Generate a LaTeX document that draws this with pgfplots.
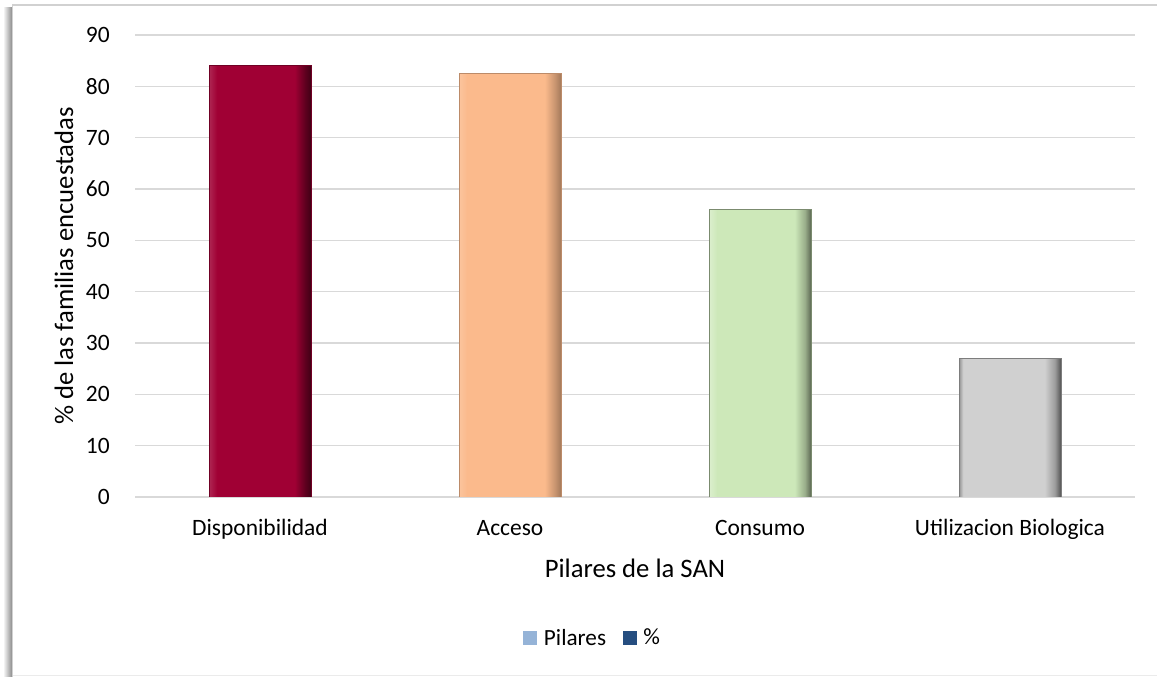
\documentclass[border=0pt]{standalone}
\usepackage{fontspec}
\setmainfont{Carlito}
\usepackage{pgfplots}
\pgfplotsset{compat=1.18}
\definecolor{disp}{RGB}{160,0,52}
\definecolor{acc}{RGB}{251,186,140}
\definecolor{cons}{RGB}{205,232,185}
\definecolor{util}{RGB}{208,208,208}
\definecolor{gridgray}{RGB}{217,217,217}
\definecolor{legblue}{RGB}{149,179,215}
\definecolor{legdark}{RGB}{38,78,128}
\pgfdeclarehorizontalshading{shDisp}{100bp}{color(0bp)=(disp!85!white); color(25bp)=(disp!85!white); color(29bp)=(disp); color(67bp)=(disp); color(72bp)=(disp!60!black); color(75bp)=(disp!40!black); color(100bp)=(disp!40!black)}
\pgfdeclarehorizontalshading{shAcc}{100bp}{color(0bp)=(acc!85!white); color(25bp)=(acc!85!white); color(29bp)=(acc); color(67bp)=(acc); color(72bp)=(acc!80!black); color(75bp)=(acc!65!black); color(100bp)=(acc!65!black)}
\pgfdeclarehorizontalshading{shCons}{100bp}{color(0bp)=(cons!70!white); color(25bp)=(cons!70!white); color(29bp)=(cons); color(67bp)=(cons); color(72bp)=(cons!75!black); color(75bp)=(cons!45!black); color(100bp)=(cons!45!black)}
\pgfdeclarehorizontalshading{shUtil}{100bp}{color(0bp)=(util!70!black); color(25bp)=(util!70!black); color(27bp)=(util); color(67bp)=(util); color(72bp)=(util!75!black); color(75bp)=(util!40!black); color(100bp)=(util!40!black)}
\begin{document}
\begin{tikzpicture}
\useasboundingbox (0,0) rectangle (867.75pt,507.75pt);
\fill[white] (0,0) rectangle (867.75pt,507.75pt);
\shade[left color=white, right color=black!45] (2.25pt,0) rectangle (9pt,502pt);
\draw[black!18, line width=0.8pt] (9.4pt,0) -- (9.4pt,504pt) -- (867.75pt,504pt);
\draw[black!8, line width=0.8pt] (9.4pt,1.2pt) -- (867.75pt,1.2pt);
\begin{axis}[
  at={(101.25pt,135pt)}, anchor=south west,
  scale only axis, width=750pt, height=346.5pt,
  xmin=-0.5, xmax=3.5, ymin=0, ymax=90,
  xtick={0,1,2,3},
  xticklabels={Disponibilidad, Acceso, Consumo, Utilizacion Biologica},
  ytick={0,10,...,90},
  ymajorgrids, grid style={color=gridgray, line width=1.1pt},
  axis line style={draw=none}, major tick length=0pt,
  tick label style={font=\fontsize{17.6}{20}\selectfont},
  /pgf/number format/assume math mode=true,
  xticklabel style={anchor=base, inner sep=0pt}, xticklabel shift=29.25pt,
  yticklabel style={anchor=east, inner sep=0pt}, yticklabel shift=18.75pt,
  xlabel={Pilares de la SAN},
  ylabel={\% de las familias encuestadas},
  label style={font=\fontsize{20}{24}\selectfont},
  xlabel style={at={(axis description cs:0.5,-0.1753)}, anchor=base},
  ylabel style={at={(axis description cs:-0.062,0.5)}, anchor=base},
  legend image code/.code={\fill[#1] (0pt,-5.25pt) rectangle (10.5pt,5.25pt); \path (13.5pt,0pt);},
  legend style={at={(axis description cs:0.458,-0.3052)}, anchor=center,
    draw=none, fill=none, legend columns=2,
    font=\fontsize{17.4}{20}\selectfont,
    /tikz/every even column/.append style={column sep=10.5pt}},
]
\addlegendimage{fill=legblue, draw=none}
\addlegendentry{Pilares}
\addlegendimage{fill=legdark, draw=none}
\addlegendentry{\%}
\addplot[ybar, bar width=76.5pt, bar shift=0pt, shade, shading=shDisp, draw=disp!70!black, line width=0.3pt, forget plot] coordinates {(0,84.1)};
\addplot[ybar, bar width=76.5pt, bar shift=0pt, shade, shading=shAcc, draw=acc!75!black, line width=0.3pt, forget plot] coordinates {(1,82.5)};
\addplot[ybar, bar width=76.5pt, bar shift=0pt, shade, shading=shCons, draw=cons!60!black, line width=0.3pt, forget plot] coordinates {(2,56.1)};
\addplot[ybar, bar width=76.5pt, bar shift=0pt, shade, shading=shUtil, draw=util!60!black, line width=0.3pt, forget plot] coordinates {(3,27)};
\end{axis}
\end{tikzpicture}
\end{document}
